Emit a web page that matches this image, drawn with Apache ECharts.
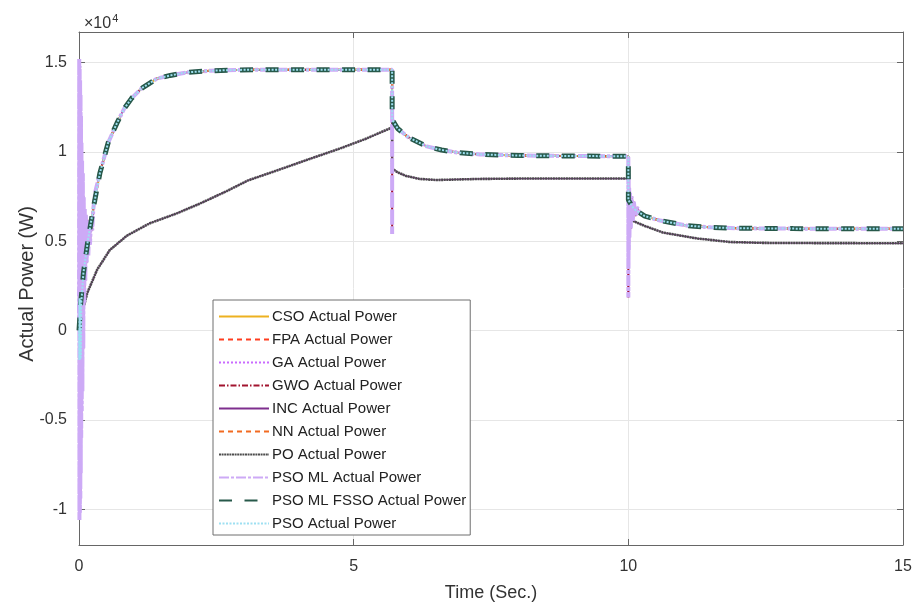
<!DOCTYPE html>
<html>
<head>
<meta charset="utf-8">
<title>Actual Power</title>
<script src="https://cdn.jsdelivr.net/npm/echarts@6/dist/echarts.min.js"></script>
<style>
  html, body { margin: 0; padding: 0; background: #fff; }
  #chart { width: 920px; height: 607px; }
</style>
</head>
<body>
<div id="chart"></div>
<script>
// main response shared by most controllers (time s, power W)
var timeMain = [0, 0.03, 0.08, 0.16, 0.27, 0.38, 0.53, 0.69, 0.82, 0.96, 1.14, 1.42, 1.66, 1.96, 2.38, 2.87, 3.5, 4.5, 5.7,
  5.701, 5.8, 6.0, 6.33, 6.6, 6.88, 7.3, 8.0, 9.0, 10.0,
  10.001, 10.1, 10.3, 10.58, 11.06, 11.5, 12.0, 13.0, 14.0, 15.0];
var powerMain = [0, 1500, 3200, 5000, 7000, 8800, 10500, 11600, 12400, 13000, 13550, 14100, 14270, 14440, 14530, 14580, 14590, 14590, 14590,
  11800, 11300, 10800, 10300, 10100, 9960, 9850, 9790, 9760, 9750,
  7300, 6800, 6400, 6150, 5870, 5770, 5720, 5700, 5690, 5690];

// PO / INC response
var timePO = [0, 0.05, 0.1, 0.15, 0.33, 0.56, 0.87, 1.29, 1.78, 2.2, 2.69, 3.08, 3.6, 4.2, 4.75, 5.2, 5.7,
  5.701, 5.8, 5.95, 6.2, 6.5, 6.9, 7.3, 8.0, 10.0,
  10.001, 10.07, 10.3, 10.63, 11.25, 11.85, 12.5, 13.5, 15.0];
var powerPO = [0, 1100, 1500, 2100, 3400, 4500, 5300, 6000, 6550, 7100, 7800, 8400, 8950, 9600, 10180, 10700, 11360,
  9060, 8850, 8650, 8480, 8420, 8450, 8480, 8500, 8500,
  6300, 6150, 5850, 5480, 5150, 4950, 4900, 4890, 4880];

// start-up oscillation (GA, GWO, PSO ML)
var timeOsc = [0, 0.004, 0.008, 0.012, 0.016, 0.02, 0.024, 0.028, 0.032, 0.036, 0.04, 0.045, 0.05, 0.056, 0.062, 0.07,
  0.078, 0.086, 0.095, 0.105, 0.115, 0.125, 0.14, 0.155, 0.17, 0.185, 0.2, 0.22, 0.24, 0.26, 0.28, 0.3];
var powerOsc = [0, 15200, -10600, 14800, -10200, 14000, -9400, 13200, -8000, 12000, -6000, 10500, -4500, 9500, -3400, 8800,
  -1000, 7500, 1500, 6800, 2800, 6500, 3800, 6200, 4200, 6000, 4800, 6400, 5600, 6800, 7300, 7800];

// spike at the first irradiance step (5.7 s)
var timeStep1 = [5.7003, 5.7006];
var powerStep1 = [5400, 12400];

// ringing at the second step (10 s)
var timeStep2 = [10.0002, 10.0006, 10.003, 10.006, 10.01, 10.015, 10.02, 10.03, 10.045, 10.06, 10.08, 10.1, 10.13, 10.16, 10.2];
var powerStep2 = [1850, 9000, 3500, 8600, 4500, 8000, 5200, 7700, 5700, 7500, 6100, 7200, 6400, 6900, 6600];

// PSO start-up chatter
var timePSO0 = [0, 0.005, 0.01, 0.015, 0.02, 0.025, 0.03, 0.035, 0.04, 0.05];
var powerPSO0 = [0, -1650, 1800, -1650, 1800, -1600, 1750, -1500, 1500, 1900];

var seriesNames = ['CSO Actual Power', 'FPA Actual Power', 'GA Actual Power', 'GWO Actual Power', 'INC Actual Power',
  'NN Actual Power', 'PO Actual Power', 'PSO ML Actual Power', 'PSO ML FSSO Actual Power', 'PSO Actual Power'];
var xTicks = [0, 5, 10, 15];
var yTickLabels = { '-10000': '-1', '-5000': '-0.5', '0': '0', '5000': '0.5', '10000': '1', '15000': '1.5' };

function pairs(t, p) {
  return t.map(function (v, i) { return [v, p[i]] })
}
// replace base points inside (from, to) with extra points
function patch(base, extra, from, to) {
  var kept = base.filter(function (d) { return !(d[0] > from && d[0] < to) });
  return kept.concat(extra).sort(function (a, b) { return a[0] - b[0] });
}

var main = pairs(timeMain, powerMain);
var po = pairs(timePO, powerPO);
var spiky = patch(main, pairs(timeOsc, powerOsc).slice(1), 0, 0.3001);
spiky = patch(spiky, pairs(timeStep1, powerStep1), 5.7, 5.701);
spiky = patch(spiky, pairs(timeStep2, powerStep2), 10, 10.2001);
var pso = patch(main, pairs(timePSO0, powerPSO0).slice(1), 0, 0.0501);

var styles = [
  { data: main, color: '#EDB120', width: 2, type: 'solid' },
  { data: main, color: '#FF3D1F', width: 2, type: [5, 4] },
  { data: spiky, color: '#C96BFF', width: 2, type: [2, 2] },
  { data: spiky, color: '#A2142F', width: 2, type: [6, 2, 1.5, 2] },
  { data: po, color: '#7E2F8E', width: 1.2, type: 'solid' },
  { data: main, color: '#F26B21', width: 2, type: [5, 4] },
  { data: po, color: '#4d4d4d', width: 2.6, type: [2, 0.6] },
  { data: spiky, color: '#CDAAF6', width: 4, type: [10, 2, 3, 2] },
  { data: main, color: '#27594A', width: 5, type: [13, 12.5] },
  { data: pso, color: '#9EE0F2', width: 2, type: [2, 1.5] }
];

var chart = echarts.init(document.getElementById('chart'));
var font = 'Liberation Sans, Arial, Helvetica, sans-serif';

chart.setOption({
  animation: false,
  backgroundColor: '#fff',
  textStyle: { fontFamily: font },
  title: {
    text: '{a|×10}{b|4}',
    left: 79,
    top: 8,
    textStyle: {
      fontWeight: 'normal',
      rich: {
        a: { fontSize: 16, color: '#333', fontFamily: font, fontWeight: 'normal' },
        b: { fontSize: 11, color: '#333', fontFamily: font, fontWeight: 'normal', verticalAlign: 'top', padding: [0, 0, 10, 1] }
      }
    }
  },
  graphic: [{
    type: 'text',
    x: 27,
    y: 284,
    rotation: Math.PI / 2,
    style: {
      text: 'Actual Power (W)',
      fill: '#333',
      font: '20px ' + font,
      align: 'center',
      verticalAlign: 'middle'
    }
  }],
  grid: {
    left: 79,
    right: 17,
    top: 32,
    bottom: 62,
    containLabel: false
  },
  legend: {
    orient: 'vertical',
    left: 213,
    top: 300,
    padding: [9, 4, 4, 5],
    itemWidth: 50,
    itemHeight: 14,
    itemGap: 8,
    backgroundColor: '#fff',
    borderColor: '#6e6e6e',
    borderWidth: 1,
    borderRadius: 0,
    itemStyle: { opacity: 0 },
    data: seriesNames,
    textStyle: { fontSize: 15, color: '#222', fontFamily: font, padding: [0, 0, 0, -2] }
  },
  xAxis: [{
    type: 'value',
    min: 0,
    max: 15,
    interval: 5,
    name: 'Time (Sec.)',
    nameLocation: 'middle',
    nameGap: 39,
    nameTextStyle: { fontSize: 18, color: '#333' },
    axisLine: { show: true, onZero: false, lineStyle: { color: '#666' } },
    axisTick: { show: true, inside: true, length: 6, lineStyle: { color: '#666' } },
    axisLabel: {
      fontSize: 16, color: '#333', margin: 14,
      formatter: function (v) { return xTicks.indexOf(v) >= 0 ? String(v) : '' }
    },
    splitLine: { show: true, lineStyle: { color: '#e6e6e6' } }
  }, {
    type: 'value',
    position: 'top',
    min: 0,
    max: 15,
    interval: 5,
    axisLine: { show: true, onZero: false, lineStyle: { color: '#666' } },
    axisTick: { show: true, inside: true, length: 6, lineStyle: { color: '#666' } },
    axisLabel: { show: false },
    splitLine: { show: false }
  }],
  yAxis: [{
    type: 'value',
    min: -12000,
    max: 16700,
    splitNumber: 5,
    axisLine: { show: true, onZero: false, lineStyle: { color: '#666' } },
    axisTick: { show: true, inside: true, length: 6, lineStyle: { color: '#666' } },
    axisLabel: {
      fontSize: 16, color: '#333', margin: 12,
      showMinLabel: false, showMaxLabel: false,
      formatter: function (v) { return yTickLabels[String(v)] !== undefined ? yTickLabels[String(v)] : '' }
    },
    splitLine: { show: true, lineStyle: { color: '#e6e6e6' } }
  }, {
    type: 'value',
    position: 'right',
    min: -12000,
    max: 16700,
    splitNumber: 5,
    axisLine: { show: true, onZero: false, lineStyle: { color: '#666' } },
    axisTick: { show: true, inside: true, length: 6, lineStyle: { color: '#666' } },
    axisLabel: { show: false },
    splitLine: { show: false }
  }],
  series: styles.map(function (s, i) {
    return {
      name: seriesNames[i],
      type: 'line',
      data: s.data,
      xAxisIndex: 0,
      yAxisIndex: 0,
      symbol: 'none',
      showSymbol: false,
      sampling: null,
      silent: true,
      lineStyle: { color: s.color, width: s.width, type: s.type },
      itemStyle: { color: s.color }
    }
  })
});
</script>
</body>
</html>
